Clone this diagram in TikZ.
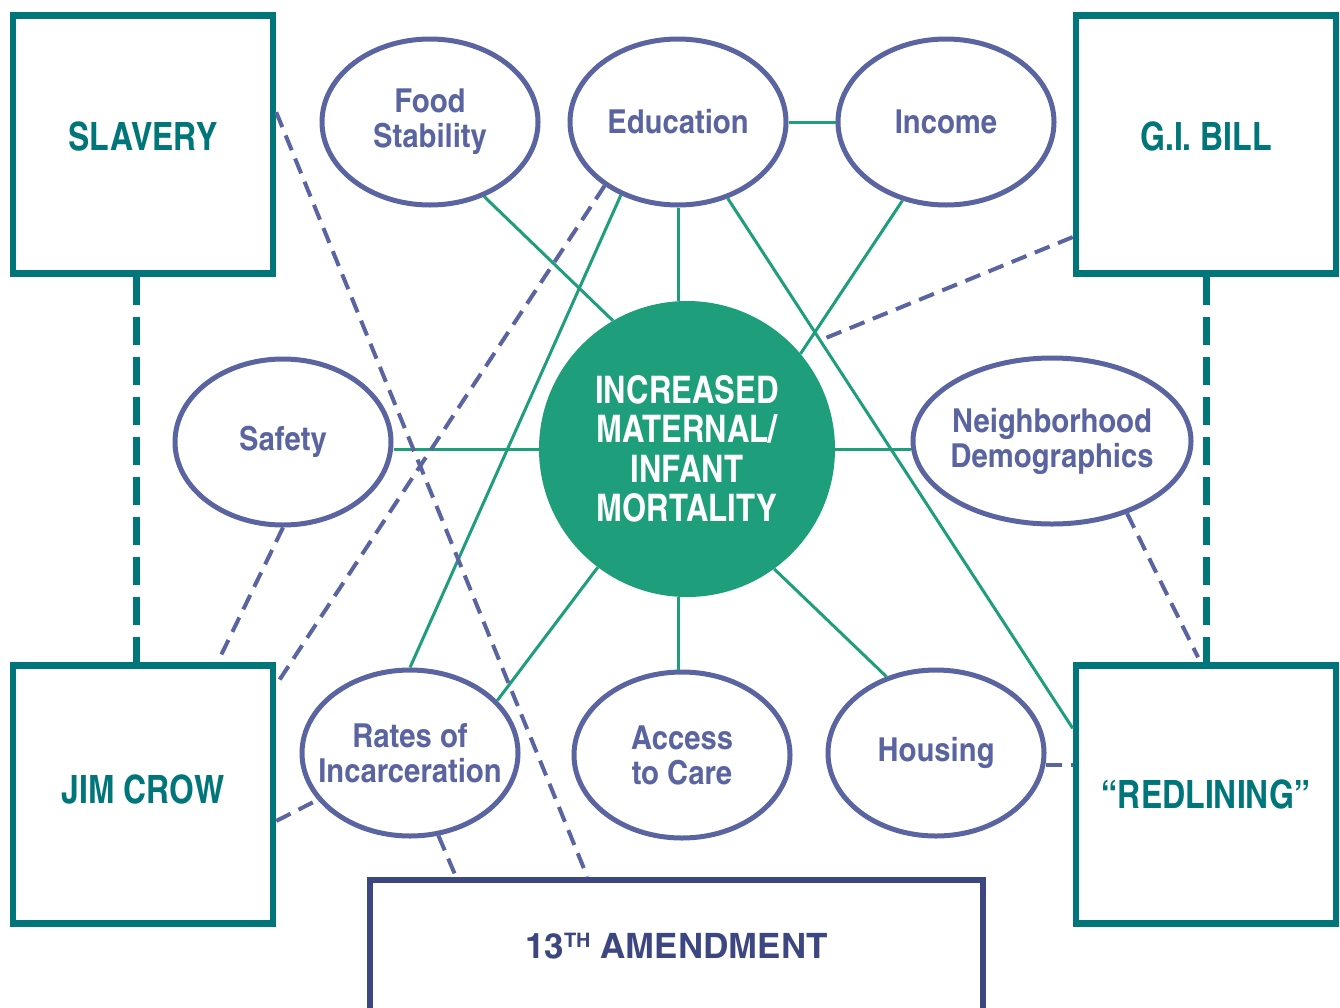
\documentclass[tikz,border=0pt]{standalone}
\usepackage{fontspec}
\setmainfont{texgyreheroscn}[Extension=.otf, UprightFont=*-regular, BoldFont=*-bold, ItalicFont=*-italic, BoldItalicFont=*-bolditalic]
\newfontfamily\ringfont{texgyreheroscn}[Extension=.otf, UprightFont=*-bold, FakeStretch=1.08]
\newfontfamily\lawfont{texgyreheroscn}[Extension=.otf, UprightFont=*-bold, FakeStretch=1.22]
\usepackage{tikz}
\usetikzlibrary{calc}
\usetikzlibrary{shapes.geometric}

\definecolor{boxteal}{RGB}{0,118,122}
\definecolor{ringblue}{RGB}{90,100,160}
\definecolor{linkgreen}{RGB}{30,158,122}
\definecolor{amendnavy}{RGB}{60,70,128}

\begin{document}
\begin{tikzpicture}[x=1pt,y=-1pt,
	era box/.style={draw=boxteal, line width=6.5pt, minimum width=260pt, minimum height=258pt, inner sep=0pt,
		text=boxteal, font=\bfseries\fontsize{39}{40}\selectfont, text height=28pt, text depth=0pt},
	law box/.style={era box, draw=amendnavy, text=amendnavy, minimum width=613pt, minimum height=140pt,
		font=\lawfont\fontsize{35}{36}\selectfont},
	factor node/.style={ellipse, draw=ringblue, line width=5pt, minimum width=216pt, minimum height=166pt, inner sep=0pt,
		text=ringblue, align=center, font=\ringfont\fontsize{33}{35}\selectfont},
	hub node/.style={circle, fill=linkgreen, minimum size=296pt, inner sep=0pt, text=white, align=center,
		font=\bfseries\fontsize{38}{39.5}\selectfont},
	link/.style={linkgreen, line width=3pt},
	soft link/.style={ringblue, line width=4pt, dash pattern=on 16pt off 9pt},
	era link/.style={boxteal, line width=7pt, dash pattern=on 28pt off 12pt}]

	\useasboundingbox (0,0) rectangle (1340,1007);

	% history
	\node[era box, text depth=17pt] (slavery) at (143,144.5) {SLAVERY};
	\node[era box, text depth=17pt] (gibill) at (1206,144.5) {G.I. BILL};
	\node[era box, text depth=11pt] (jimcrow) at (143,794.5) {JIM CROW};
	\node[era box] (redline) at (1206,794.5) {“REDLINING”};
	\node[law box, text depth=11pt] (amend) at (676.5,950) {13\raisebox{11pt}{\fontsize{20}{20}\selectfont TH} AMENDMENT};

	% outcome
	\node[hub node] (hub) at (687,449) {INCREASED\\MATERNAL/\\INFANT\\MORTALITY};

	% factors
	\node[factor node] (food) at (430,122) {Food\\Stability};
	\node[factor node] (edu) at (678,122) {Education};
	\node[factor node] (income) at (946,122) {Income};
	\node[factor node] (safety) at (283,442) {Safety};
	\node[factor node, minimum width=278pt, inner xsep=-20pt] (hood) at (1052,441) {Neighborhood\\Demographics};
	\node[factor node, inner xsep=-25pt] (rates) at (410,753) {Rates of\\Incarceration};
	\node[factor node] (access) at (682,755) {Access\\to Care};
	\node[factor node] (housing) at (936,753) {Housing};

	\coordinate (rlpt) at ($(redline.north west)!0.25!(redline.south west)$);
	\coordinate (gimeet) at ($(edu)!0.36!(rlpt)$);

	% solid links
	\draw[link] (food.306) -- (hub.120);
	\draw[link] (edu.south) -- (edu.south |- hub.north);
	\draw[link] (income.241) -- (hub.40);
	\draw[link] (hub.west) -- (hub.west -| safety.east);
	\draw[link] (hub.east) -- (hub.east -| hood.west);
	\draw[link] (rates.31) -- (hub);
	\draw[link] (edu.south |- hub.south) -- (edu.south |- access.north);
	\draw[link] (housing.123) -- (hub.-54);
	\draw[link] (edu) -- (income);
	\draw[link] (edu.232) -- (rates.north);
	\draw[link] (edu) -- (rlpt);

	% dashed links
	\draw[era link] ($(slavery.south)+(-7,0)$) -- ($(jimcrow.north)+(-7,0)$);
	\draw[era link] (gibill) -- (redline);
	\draw[soft link] ($(slavery.north east)!0.378!(slavery.south east)$) -- ($(amend.north west)!0.356!(amend.north east)$);
	\draw[soft link] (safety.south) -- ($(jimcrow.north west)!0.78!(jimcrow.north east)$);
	\draw[soft link] (edu.221) -- ($(jimcrow.north east)!0.085!(jimcrow.south east)$);
	\draw[soft link] ($(gibill.north west)!0.85!(gibill.south west)$) -- (gimeet);
	\draw[soft link] (hood.316) -- ($(redline.north west)!0.47!(redline.north east)+(0,-5)$);
	\draw[soft link] (housing.-6) -- (housing.-6 -| redline.west);
	\draw[soft link] ($(jimcrow.north east)!0.6!(jimcrow.south east)$) -- (rates);
	\draw[soft link] (rates.289) -- ($(amend.north west)!0.144!(amend.north east)$);
\end{tikzpicture}
\end{document}
